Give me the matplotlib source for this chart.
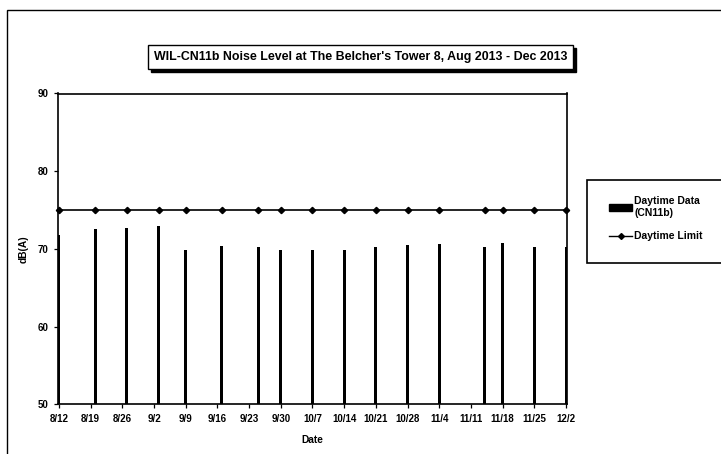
import datetime as dt

import matplotlib
matplotlib.use('Agg')
import matplotlib.pyplot as plt
import matplotlib.dates as mdates
from matplotlib.lines import Line2D
from matplotlib.patches import Rectangle, Patch

plt.rcParams['font.family'] = ['Liberation Sans Narrow', 'Liberation Sans', 'DejaVu Sans']

# === Data ===
measure_dates = ['2013-08-12', '2013-08-20', '2013-08-27', '2013-09-03', '2013-09-09',
                 '2013-09-17', '2013-09-25', '2013-09-30', '2013-10-07', '2013-10-14',
                 '2013-10-21', '2013-10-28', '2013-11-04', '2013-11-14', '2013-11-18',
                 '2013-11-25', '2013-12-02']
daytime_db = [71.8, 72.6, 72.7, 72.9, 69.9, 70.4, 70.2, 69.9, 69.9, 69.9,
              70.3, 70.5, 70.6, 70.3, 70.7, 70.3, 70.3]
daytime_limit = [75] * len(measure_dates)

tick_dates = ['2013-08-12', '2013-08-19', '2013-08-26', '2013-09-02', '2013-09-09',
              '2013-09-16', '2013-09-23', '2013-09-30', '2013-10-07', '2013-10-14',
              '2013-10-21', '2013-10-28', '2013-11-04', '2013-11-11', '2013-11-18',
              '2013-11-25', '2013-12-02']
tick_labels = ['8/12', '8/19', '8/26', '9/2', '9/9', '9/16', '9/23', '9/30', '10/7',
               '10/14', '10/21', '10/28', '11/4', '11/11', '11/18', '11/25', '12/2']

to_num = lambda s: mdates.date2num(dt.datetime.strptime(s, '%Y-%m-%d'))
x = [to_num(d) for d in measure_dates]
xt = [to_num(d) for d in tick_dates]

# === Figure ===
W, H = 721, 454
fig = plt.figure(figsize=(W / 100, H / 100), dpi=100)
ax = fig.add_axes([58 / W, 1 - 404.3 / H, (567 - 58) / W, (404.3 - 93.5) / H])

ax.bar(x, [v - 50 for v in daytime_db], bottom=50, width=0.65, color='black',
       align='center', zorder=2)
ax.plot(x, daytime_limit, color='black', lw=1.2, marker='D', markersize=3.2,
        zorder=3, clip_on=False)

ax.set_xlim(xt[0] - 0.2, xt[-1] + 0.2)
ax.set_ylim(50, 90)
ax.set_yticks([50, 60, 70, 80, 90])
ax.set_xticks(xt)
ax.set_xticklabels(tick_labels)
ax.tick_params(axis='both', direction='out', length=3, width=0.9, labelsize=7,
               colors='black', pad=4)
for lab in ax.get_xticklabels() + ax.get_yticklabels():
    lab.set_fontweight('bold')
for sp in ax.spines.values():
    sp.set_linewidth(1.2)
    sp.set_color('black')

ax.set_xlabel('Date', fontsize=7.3, fontweight='bold', labelpad=8)
ax.set_ylabel('dB(A)', fontsize=7.3, fontweight='bold', labelpad=6)

# title in a box with shadow
fig.patches.append(Rectangle((151 / W, 1 - 72 / H), 425 / W, 24 / H,
                             transform=fig.transFigure, facecolor='black',
                             edgecolor='black', zorder=1))
fig.patches.append(Rectangle((148 / W, 1 - 69 / H), 425 / W, 24 / H,
                             transform=fig.transFigure, facecolor='white',
                             edgecolor='black', lw=1.0, zorder=2))
fig.text(360.5 / W, 1 - 57 / H,
         "WIL-CN11b Noise Level at The Belcher's Tower 8, Aug 2013 - Dec 2013",
         ha='center', va='center', fontsize=8.9, fontweight='bold', zorder=3)

# outer chart frame (right and bottom edges lie outside the picture)
fig.patches.append(Rectangle((7 / W, -0.05), 1.0, 1 - 10 / H + 0.05,
                             transform=fig.transFigure, facecolor='none',
                             edgecolor='black', lw=1.0, zorder=0))

# legend box
fig.patches.append(Rectangle((587 / W, 1 - 263 / H), 200 / W, 83 / H,
                             transform=fig.transFigure, facecolor='white',
                             edgecolor='black', lw=1.2, zorder=1))
handles = [Patch(facecolor='black', edgecolor='black'),
           Line2D([], [], color='black', lw=1.0, marker='D', markersize=3)]
leg = fig.legend(handles, ['Daytime Data\n(CN11b)', 'Daytime Limit'],
                 loc='upper left', bbox_to_anchor=(604 / W, 1 - 191 / H),
                 frameon=False, fontsize=7.5, handlelength=2.2, handleheight=0.6,
                 handletextpad=0.2, labelspacing=1.3, borderpad=0)
for t in leg.get_texts():
    t.set_fontweight('bold')
leg.set_zorder(3)

fig.savefig('out.png', dpi=100)
